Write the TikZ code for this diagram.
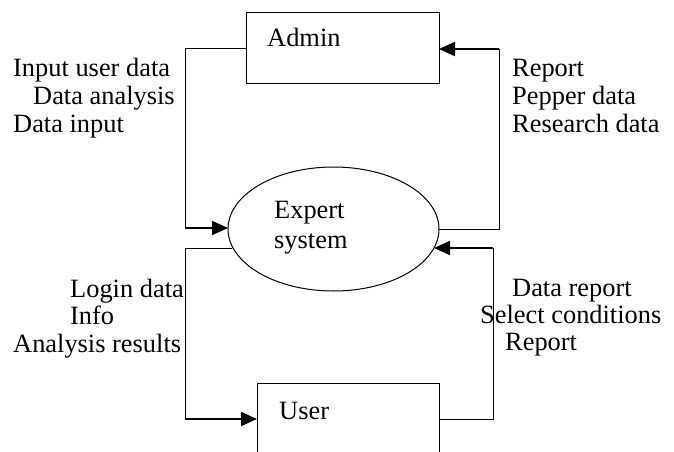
\documentclass[tikz,border=0pt]{standalone}
\usepackage{fontspec}
\setmainfont{Liberation Serif}
\usetikzlibrary{shapes.geometric,arrows.meta}
\begin{document}
\begin{tikzpicture}[x=1pt,y=-1pt,
 box/.style={draw,line width=1pt,inner sep=0,anchor=north west},
 lbl/.style={anchor=base west,inner sep=0,font=\fontsize{26.4}{30}\selectfont},
 thinline/.style={line width=1pt},
 flow/.style={line width=2pt,-{Triangle[length=16pt,width=14pt]}}]
\clip (0,0) rectangle (674,452);
\fill[white] (0,0) rectangle (674,452);
% shapes
\node[box,minimum width=193pt,minimum height=71pt] (admin) at (246,12) {};
\node[box,minimum width=182pt,minimum height=100pt] (user) at (257,383) {};
\node[draw,ellipse,line width=1pt,minimum width=211pt,minimum height=124pt,inner sep=0] (es) at (333.5,229) {};
% texts
\node[lbl] (tadmin) at (267,47) {Admin};
\node[lbl] (texpert) at (274,218) {Expert};
\node[lbl] (tsystem) at (274,248) {system};
\node[lbl] (tuser) at (279,419) {User};
\node[lbl] (l1) at (13,77) {Input user data};
\node[lbl] (l2) at (33,104) {Data analysis};
\node[lbl] (l3) at (13,132) {Data input};
\node[lbl] (r1) at (512,77) {Report};
\node[lbl] (r2) at (512,104) {Pepper data};
\node[lbl] (r3) at (512,132) {Research data};
\node[lbl] (b1) at (70,297) {Login data};
\node[lbl] (b2) at (70,324) {Info};
\node[lbl] (b3) at (13,352) {Analysis results};
\node[lbl] (c1) at (512,296) {Data report};
\node[lbl] (c2) at (480,323) {Select conditions};
\node[lbl] (c3) at (505,350) {Report};
% connector points
\coordinate (aw) at (246,49);
\coordinate (ae) at (439,49);
\coordinate (p1) at (185,228);
\coordinate (ew) at (228,228);
\coordinate (ee) at (439,229);
\coordinate (p2) at (499,229);
\coordinate (p3) at (499,49);
\coordinate (ebl) at (232,248);
\coordinate (p4) at (185,248);
\coordinate (p5) at (185,419);
\coordinate (uw) at (257,419);
\coordinate (ue) at (439,419);
\coordinate (p6) at (493,419);
\coordinate (p7) at (493,248);
\coordinate (ebr) at (434,248);
% connectors
\draw[thinline] (aw) -| (p1);
\draw[flow] (p1) -- (ew);
\draw[thinline] (ee) -| (p3);
\draw[flow] (p3) -- (ae);
\draw[thinline] (ebl) -| (p5);
\draw[flow] (p5) -- (uw);
\draw[thinline] (ue) -| (p7);
\draw[flow] (p7) -- (ebr);
\end{tikzpicture}
\end{document}
